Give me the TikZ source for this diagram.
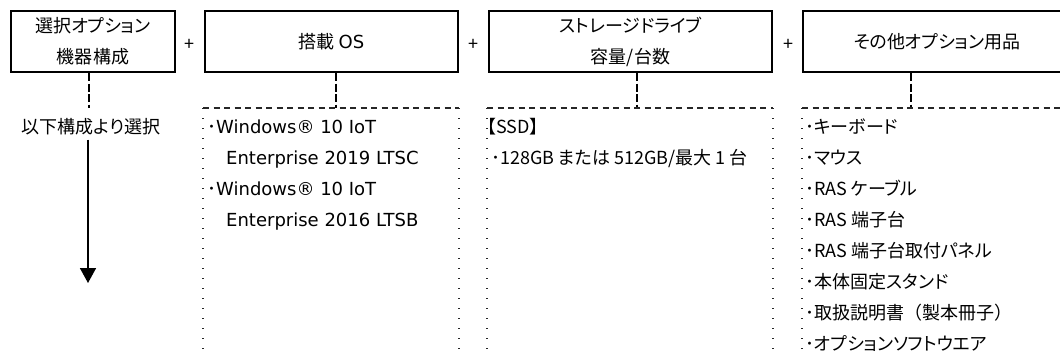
\documentclass[tikz,border=0pt]{standalone}
\usepackage{fontspec}
\setmainfont{DejaVu Sans}
\newfontfamily\jp[RawFeature={+palt}]{Noto Sans CJK JP}
\newfontfamily\jpn{Noto Sans CJK JP}
\usetikzlibrary{arrows.meta}
\newcommand\fsz{\fontsize{18}{31}\selectfont}
\begin{document}
\begin{tikzpicture}[x=1pt,y=-1pt,
  box/.style={draw=black, line width=2pt, minimum height=61pt, inner sep=0pt,
    align=center, font=\fsz\jp},
  plus/.style={inner sep=0pt, font=\fsz\jp},
  txt/.style={anchor=base west, inner sep=0pt, font=\fsz\jp},
  ltxt/.style={anchor=base west, inner sep=0pt, font=\fsz},
  conn/.style={draw=black, line width=2pt, dash pattern=on 8pt off 2.5pt},
  topdash/.style={draw=black!85, line width=1.2pt, dash pattern=on 6pt off 4.5pt},
  sidedot/.style={draw=black!85, line width=1.4pt, dash pattern=on 1.4pt off 8.6pt},
  arrowline/.style={draw=black, line width=1.6pt, -{Triangle[width=16pt,length=15pt]}}
]
\useasboundingbox (0,0) rectangle (1060,354);
\clip (0,0) rectangle (1060,354);

% top boxes
\node[box, minimum width=164pt] (b1) at (93,41.5) {選択オプション\\機器構成};
\node[box, minimum width=253pt] (b2) at (331.5,41.5) {搭載 {\rmfamily OS}};
\node[box, minimum width=283pt] (b3) at (630.5,41.5) {ストレージドライブ\\容量/台数};
\node[box, minimum width=268pt] (b4) at (937,41.5) {その他オプション用品};

\node[plus] (p1) at (189,45) {+};
\node[plus] (p2) at (473,45) {+};
\node[plus] (p3) at (788,45) {+};

% connector anchors
\coordinate (k1) at (89,108);
\coordinate (k2) at (336,108);
\coordinate (k3) at (637,108);
\coordinate (k4) at (911,108);

\draw[conn] (b1.south -| k1) -- (k1);
\draw[conn] (b2.south -| k2) -- (k2);
\draw[conn] (b3.south -| k3) -- (k3);
\draw[conn] (b4.south -| k4) -- (k4);

% column 1
\node[inner sep=0pt, font=\fsz\jp] (t1) at (91,127) {以下構成より選択};
\coordinate (a1e) at (88,283);
\draw[arrowline] ([yshift=-4pt]t1.south -| a1e) -- (a1e);

% column frames
\coordinate (c2l) at (203,108); \coordinate (c2r) at (459,108);
\coordinate (c3l) at (487,108); \coordinate (c3r) at (773,108);
\coordinate (c4l) at (802,108); \coordinate (c4r) at (1072,108);
\coordinate (bot) at (0,356);

\draw[topdash] (c2l) -- (c2r);
\draw[topdash] (c3l) -- (c3r);
\draw[topdash] (c4l) -- (c4r);
\draw[sidedot] (c2l) -- (c2l |- bot);
\draw[sidedot] (c2r) -- (c2r |- bot);
\draw[sidedot] (c3l) -- (c3l |- bot);
\draw[sidedot] (c3r) -- (c3r |- bot);
\draw[sidedot] (c4l) -- (c4l |- bot);

% column 2 texts
\node[ltxt] (w1) at (207,133.5) {{\jp ･}Windows® 10 IoT};
\node[ltxt] (e1) at (226,164.5) {Enterprise 2019 LTSC};
\node[ltxt] (w2) at (207,195.5) {{\jp ･}Windows® 10 IoT};
\node[ltxt] (e2) at (226,226.5) {Enterprise 2016 LTSB};

% column 3 texts
\node[txt] (s1) at (487,133.5) {【SSD】};
\node[txt] (s2) at (491,164.5) {･128GB または 512GB/最大 1 台};

% column 4 texts
\node[txt] (o1) at (805,133.5) {･キーボード};
\node[txt] (o2) at (805,164.5) {･マウス};
\node[txt] (o3) at (805,195.5) {･RAS ケーブル};
\node[txt] (o4) at (805,226.5) {･RAS 端子台};
\node[txt] (o5) at (805,257.5) {･RAS 端子台取付パネル};
\node[txt] (o6) at (805,288.5) {･本体固定スタンド};
\node[txt] (o7) at (805,319.5) {･取扱説明書{\jpn （}製本冊子{\jpn ）}};
\node[txt] (o8) at (805,350.5) {･オプションソフトウエア};
\end{tikzpicture}
\end{document}
